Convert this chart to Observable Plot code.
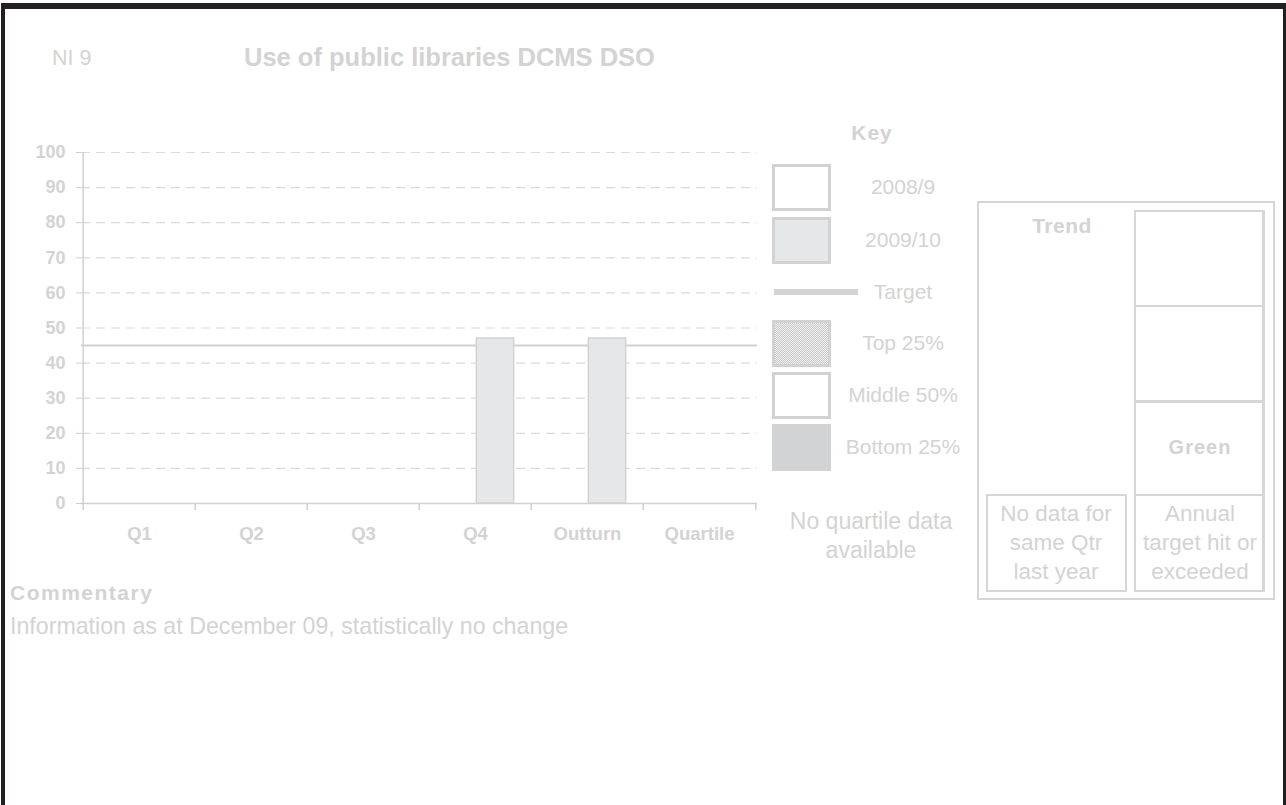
<!DOCTYPE html>
<html><head><meta charset="utf-8">
<script src="https://cdn.jsdelivr.net/npm/d3@7"></script>
<script src="https://cdn.jsdelivr.net/npm/@observablehq/plot@0.6"></script>
<style>
body{margin:0;background:#fff;font-family:"Liberation Sans",Arial,sans-serif;}
#page{position:relative;width:1286px;height:805px;overflow:hidden;background:#fff;}
.t{position:absolute;color:#d3d3d3;white-space:nowrap;line-height:1.15;transform:translate(-50%,-50%);text-align:center;}
.t.l{transform:translate(0,-50%);text-align:left;}
.b{font-weight:bold;}
.box{position:absolute;box-sizing:border-box;border:2px solid #d6d6d6;}
.sw{position:absolute;box-sizing:border-box;}
.blk{position:absolute;background:#231f20;}
#chart{position:absolute;left:0;top:0;}
</style></head>
<body><div id="page"></div>
<script>
// ---- data ----
const categories = ["Q1", "Q2", "Q3", "Q4", "Outturn", "Quartile"];
const series = ["2008/9", "2009/10"];
const values2008 = [null, null, null, null, null, null];
const values2009 = [null, null, null, 47, 47, null];
const target = 45;
const yTicks = [0, 10, 20, 30, 40, 50, 60, 70, 80, 90, 100];
const keyLabels = ["2008/9", "2009/10", "Target", "Top 25%", "Middle 50%", "Bottom 25%"];
const noQuartile = ["No quartile data", "available"];
const trendLeft = ["No data for", "same Qtr", "last year"];
const trendRight = ["Annual", "target hit or", "exceeded"];
const title = "Use of public libraries DCMS DSO";
const code = "NI 9";
const commentaryTitle = "Commentary";
const commentary = "Information as at December 09, statistically no change";
const status = "Green";

// ---- chart ----
const W = 780, H = 560, mL = 81, mR = 23, mT = 152, mB = 57;
const bw = (W - mL - mR) / categories.length;
const barW = 38;
const rows = (vals) => categories.map((c, i) => ({cat: c, value: vals[i]})).filter(d => d.value != null);
const rows08 = rows(values2008), rows09 = rows(values2009);
const grey = "#d3d3d3";

const chart = Plot.plot({
  width: W, height: H,
  marginLeft: mL, marginRight: mR, marginTop: mT, marginBottom: mB,
  style: {background: "transparent", color: grey, fontFamily: '"Liberation Sans", Arial, sans-serif'},
  x: {domain: categories, padding: 0, axis: null, label: null},
  y: {domain: [0, 100], axis: null, label: null},
  marks: [
    Plot.ruleY(yTicks.filter(v => v > 0), {y: d => d, stroke: "#dadada", strokeWidth: 1.2, strokeDasharray: "9,6"}),
    Plot.ruleY([target], {y: d => d, stroke: "#d0d0d0", strokeWidth: 2}),
    Plot.barY(rows08, {x: "cat", y: "value", insetLeft: bw / 2 - barW, insetRight: bw / 2, fill: "#ffffff", stroke: "#d2d2d2", strokeWidth: 1.5}),
    Plot.barY(rows09, {x: "cat", y: "value", insetLeft: bw / 2 + 1, insetRight: bw / 2 - barW - 1, fill: "#e6e7e9", stroke: "#d2d2d2", strokeWidth: 1.5}),
    Plot.ruleY([0], {y: d => d, stroke: "#d0d0d0", strokeWidth: 1.5}),
    Plot.ruleX([categories[0]], {x: d => d, dx: -bw / 2, stroke: "#d0d0d0", strokeWidth: 1.5}),
    Plot.ruleX(categories, {x: d => d, dx: -bw / 2, y1: 0, y2: -2, stroke: "#d0d0d0", strokeWidth: 1.5}),
    Plot.ruleX([categories[categories.length - 1]], {x: d => d, dx: bw / 2, y1: 0, y2: -2, stroke: "#d0d0d0", strokeWidth: 1.5}),
    Plot.axisY({ticks: yTicks, tickSize: 5, tickPadding: 11, fontSize: 18, fontWeight: "bold", stroke: "#d0d0d0", label: null}),
    Plot.axisX({tickSize: 0, tickPadding: 23, fontSize: 18.5, fontWeight: "bold", label: null})
  ]
});
chart.id = "chart";
const page = document.getElementById("page");
page.appendChild(chart);

// ---- html helpers ----
function txt(s, x, y, size, opts = {}) {
  const d = document.createElement("div");
  d.className = "t" + (opts.bold ? " b" : "") + (opts.left ? " l" : "");
  d.style.left = x + "px"; d.style.top = y + "px"; d.style.fontSize = size + "px";
  if (opts.ls) d.style.letterSpacing = opts.ls + "px";
  d.textContent = s; page.appendChild(d); return d;
}
function box(x, y, w, h, css) {
  const d = document.createElement("div");
  d.className = "box"; Object.assign(d.style, {left: x + "px", top: y + "px", width: w + "px", height: h + "px"}, css || {});
  page.appendChild(d); return d;
}
function blk(x, y, w, h) {
  const d = document.createElement("div"); d.className = "blk";
  Object.assign(d.style, {left: x + "px", top: y + "px", width: w + "px", height: h + "px"});
  page.appendChild(d);
}

// frame
blk(1, 3, 1285, 6); blk(1, 3, 4, 802); blk(1283, 3, 3, 802);

// header
txt(code, 52, 58, 21.5, {left: true});
txt(title, 244, 58, 25.5, {left: true, bold: true});

// key
txt("Key", 872, 133, 21, {bold: true, ls: 1});
const swatches = [
  {background: "#ffffff", border: "3px solid #d2d2d2"},
  {background: "#e6e7e9", border: "3px solid #d2d2d2"},
  null,
  {background: "repeating-conic-gradient(#c9c9c9 0 25%, #efefef 0 50%) 0 0/2px 2px", border: "3px solid #d2d2d2"},
  {background: "#ffffff", border: "3px solid #d2d2d2"},
  {background: "#d2d3d5", border: "none"}
];
const keyY = [187, 240, 292, 343, 395, 447];
keyLabels.forEach((s, i) => {
  if (swatches[i]) {
    const d = document.createElement("div"); d.className = "sw";
    Object.assign(d.style, {left: "772px", top: (keyY[i] - 23) + "px", width: "59px", height: "47px"}, swatches[i]);
    page.appendChild(d);
  } else {
    const d = document.createElement("div"); d.className = "sw";
    Object.assign(d.style, {left: "774px", top: (keyY[i] - 3) + "px", width: "84px", height: "6px", background: "#d2d3d5"});
    page.appendChild(d);
  }
  txt(s, 903, keyY[i], 21);
});
noQuartile.forEach((s, i) => txt(s, 871, 521 + i * 29, 23));

// trend box
box(977, 201, 298, 399);
box(1134, 210, 131, 97, {borderRightWidth: "3px"});
box(1134, 305, 131, 97, {borderRightWidth: "3px"});
box(1134, 400, 131, 96, {borderRightWidth: "3px", borderTopWidth: "3px"});
box(1134, 494, 131, 98, {borderRightWidth: "3px"});
box(986, 494, 141, 98);
txt("Trend", 1062, 226, 21, {bold: true, ls: 0.5});
txt(status, 1200, 447, 20, {bold: true, ls: 1});
trendLeft.forEach((s, i) => txt(s, 1056, 514 + i * 29, 22.5));
trendRight.forEach((s, i) => txt(s, 1200, 514 + i * 29, 22.5));

// commentary
txt(commentaryTitle, 10, 593, 21, {left: true, bold: true, ls: 1.5});
txt(commentary, 10, 626, 23.2, {left: true});
</script></body></html>
